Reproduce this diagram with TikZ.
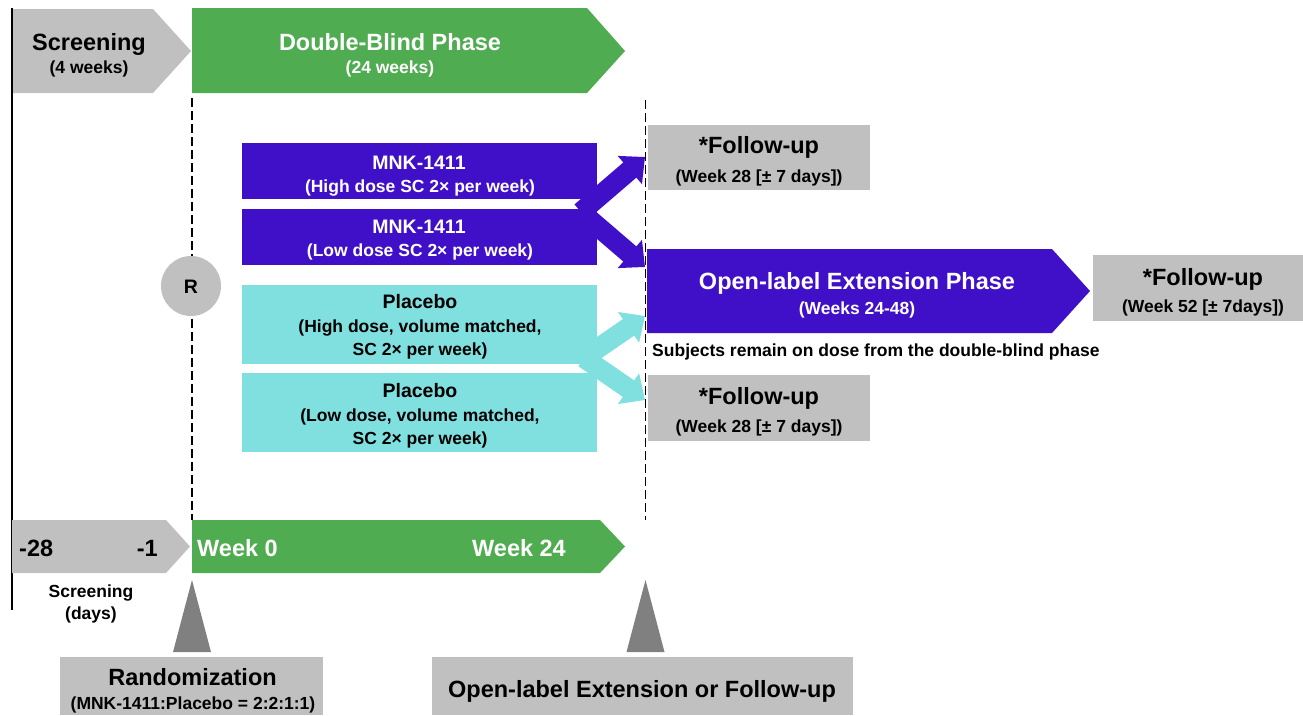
\documentclass[tikz,border=0pt]{standalone}
\usepackage{fontspec}
\setmainfont{Liberation Sans}
\usetikzlibrary{arrows.meta}
\definecolor{boxgray}{RGB}{192,192,192}
\definecolor{trigray}{RGB}{128,128,128}
\definecolor{phgreen}{RGB}{80,172,80}
\definecolor{drugpurple}{RGB}{64,16,200}
\definecolor{placcyan}{RGB}{128,224,224}
\begin{document}
\begin{tikzpicture}[x=1pt,y=-1pt,
  big/.style={font=\fontsize{23.5}{28}\selectfont\bfseries,inner sep=0pt,text height=17pt,text depth=0pt},
  mid/.style={font=\fontsize{19.5}{24}\selectfont\bfseries,inner sep=0pt,text height=14pt,text depth=0pt},
  med/.style={font=\fontsize{17.5}{21}\selectfont\bfseries,inner sep=0pt,text height=12.5pt,text depth=0pt},
  rectbox/.style={inner sep=0pt,outer sep=0pt,draw=none},
  dashline/.style={line width=1.5pt,dash pattern=on 9pt off 4pt},
  blockarrow/.style={line width=20pt,-{Triangle[length=20pt,width=36pt]}},
]
\useasboundingbox (0,0) rectangle (1303,715);

% top phase chevrons
\fill[boxgray] (12,9) -- (153,9) -- (191,51) -- (153,93) -- (12,93) -- cycle;
\fill[phgreen] (192,8) -- (587,8) -- (625,51) -- (587,93) -- (192,93) -- cycle;

% left vertical line
\draw[line width=2pt] (12,8) -- (12,610);

% treatment boxes
\node (mnkhi) [rectbox,fill=drugpurple,minimum width=355pt,minimum height=56pt] at (419.5,171) {};
\node (mnklo) [rectbox,fill=drugpurple,minimum width=355pt,minimum height=56pt] at (419.5,237) {};
\node (plahi) [rectbox,fill=placcyan,minimum width=355pt,minimum height=79pt] at (419.5,324.5) {};
\node (plalo) [rectbox,fill=placcyan,minimum width=355pt,minimum height=79pt] at (419.5,412.5) {};

% follow-up boxes and open-label chevron
\node (fu1) [rectbox,fill=boxgray,minimum width=222pt,minimum height=65pt] at (759,157.5) {};
\node (fu3) [rectbox,fill=boxgray,minimum width=222pt,minimum height=66pt] at (759,408) {};
\node (fu2) [rectbox,fill=boxgray,minimum width=211pt,minimum height=66pt] at (1198,288) {};
\fill[drugpurple] (647,249) -- (1052,249) -- (1090,291) -- (1052,333) -- (647,333) -- cycle;

% block arrows
\coordinate (jp) at (581,212);
\coordinate (tp1) at (645,157);
\coordinate (tp2) at (645,267);
\coordinate (jc) at (584,358);
\coordinate (tc1) at (645,316);
\coordinate (tc2) at (645,400);
\draw[drugpurple,blockarrow] (jp) -- (tp1);
\draw[drugpurple,blockarrow] (jp) -- (tp2);
\draw[placcyan,blockarrow] (jc) -- (tc1);
\draw[placcyan,blockarrow] (jc) -- (tc2);

% dashed lines
\draw[dashline] (192,98) -- (192,520);
\draw[dashline] (645.5,100) -- (645.5,520);

% R circle
\node (rand) [circle,fill=boxgray,minimum size=60pt,inner sep=0pt,mid] at (191,286) {R};

% bottom timeline
\fill[boxgray] (12,520) -- (166,520) -- (190,546.5) -- (166,573) -- (12,573) -- cycle;
\fill[phgreen] (192,520) -- (600,520) -- (625,546.5) -- (600,573) -- (192,573) -- cycle;
\fill[trigray] (192,580) -- (211,652) -- (173,652) -- cycle;
\fill[trigray] (645.5,580) -- (664.5,652) -- (626.5,652) -- cycle;
\node (randbox) [rectbox,fill=boxgray,minimum width=263pt,minimum height=58pt] at (191.5,686) {};
\node (olebox) [rectbox,fill=boxgray,minimum width=421pt,minimum height=58pt] at (642.5,686) {};

% texts
\node (t1) [big] at (89,41.5) {Screening};
\node (t2) [med] at (89,67.5) {(4 weeks)};
\node (t3) [big,white] at (390,41.5) {Double-Blind Phase};
\node (t4) [med,white] at (390,67.5) {(24 weeks)};

\node (t5) [mid,white] at (419,162) {MNK-1411};
\node (t6) [med,white] at (420,186) {(High dose SC 2× per week)};
\node (t7) [mid,white] at (419,226) {MNK-1411};
\node (t8) [med,white] at (420,250) {(Low dose SC 2× per week)};
\node (t9) [mid] at (420,301) {Placebo};
\node (t10) [med] at (420,326) {(High dose, volume matched,};
\node (t11) [med] at (420,349) {SC 2× per week)};
\node (t12) [mid] at (420,390) {Placebo};
\node (t13) [med] at (420,415) {(Low dose, volume matched,};
\node (t14) [med] at (420,438) {SC 2× per week)};

\node (t15) [big] at (759,145) {*Follow-up};
\node (t16) [med] at (759,176) {(Week 28 [± 7 days])};
\node (t17) [big,white] at (857,281) {Open-label Extension Phase};
\node (t18) [med,white] at (857,308) {(Weeks 24-48)};
\node (t19) [big] at (1203,277) {*Follow-up};
\node (t20) [med] at (1203,306) {(Week 52 [± 7days])};
\node (t21) [med,anchor=west] at (652,350) {Subjects remain on dose from the double-blind phase};
\node (t22) [big] at (759,396) {*Follow-up};
\node (t23) [med] at (759,426) {(Week 28 [± 7 days])};

\node (t24) [big,anchor=west] at (19,548) {-28};
\node (t25) [big,anchor=east] at (158,548) {-1};
\node (t26) [big,white,anchor=west] at (197,548) {Week 0};
\node (t27) [big,white] at (519,548) {Week 24};
\node (t28) [med] at (91,591) {Screening};
\node (t29) [med] at (91,613) {(days)};
\node (t30) [big] at (192.5,677) {Randomization};
\node (t31) [med] at (193,703) {(MNK-1411:Placebo = 2:2:1:1)};
\node (t32) [big] at (642,689) {Open-label Extension or Follow-up};
\end{tikzpicture}
\end{document}
